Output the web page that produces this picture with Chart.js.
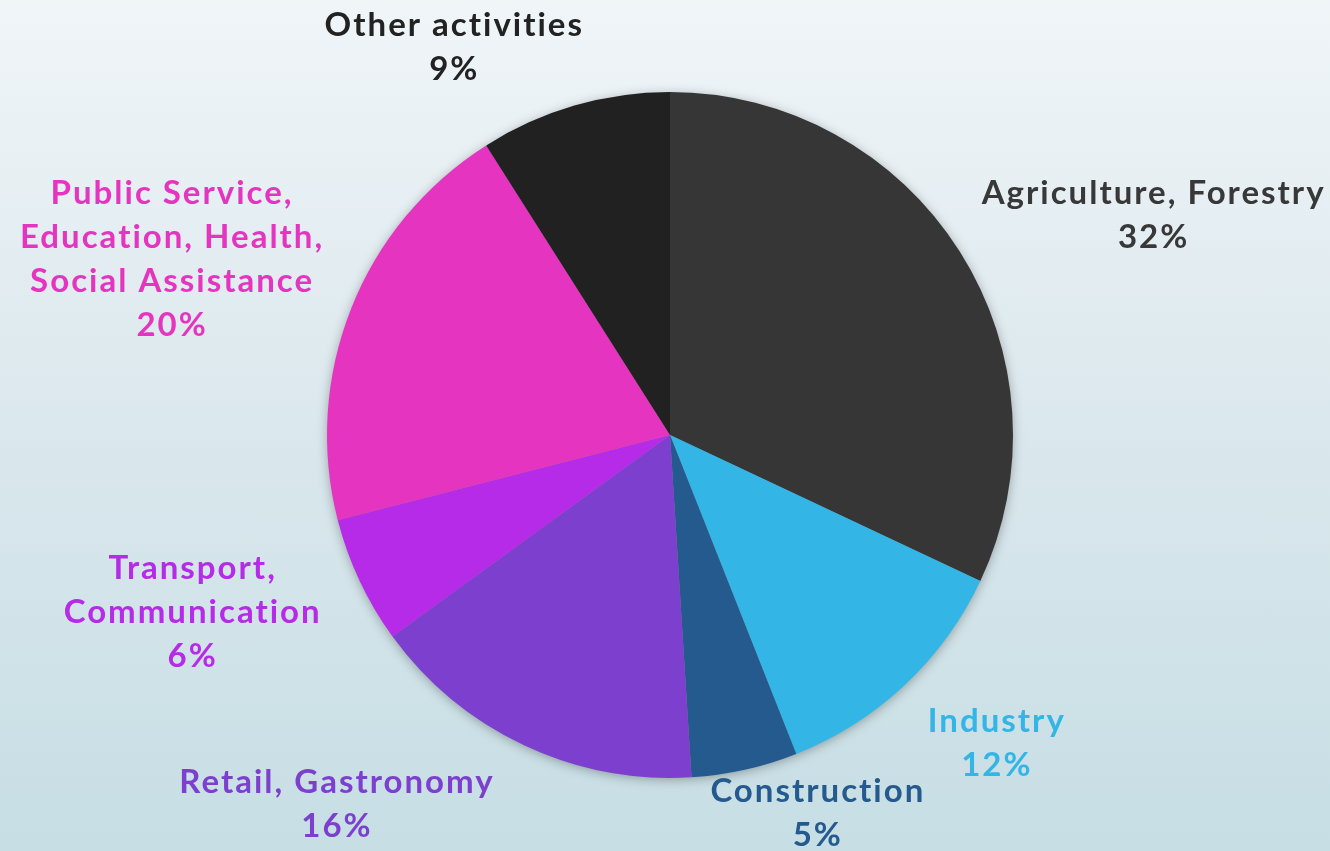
<!DOCTYPE html>
<html>
<head>
<meta charset="utf-8">
<script src="https://cdn.jsdelivr.net/npm/chart.js@4.4.1/dist/chart.umd.min.js"></script>
<style>
  html, body { margin: 0; padding: 0; }
  body {
    width: 1330px; height: 851px; overflow: hidden;
    background: linear-gradient(to bottom, #f0f5f8 0%, #dde9ee 45%, #c6dee4 100%);
  }
  canvas { display: block; }
</style>
</head>
<body>
<canvas id="pie" width="1330" height="851"></canvas>
<script>
// data
const categories = [
  ['Agriculture, Forestry'],
  ['Industry'],
  ['Construction'],
  ['Retail, Gastronomy'],
  ['Transport,', 'Communication'],
  ['Public Service,', 'Education, Health,', 'Social Assistance'],
  ['Other activities']
];
const shares = [32, 12, 5, 16, 6, 20, 9];
const sliceColors = ['#363636', '#33b5e5', '#255a8f', '#7d40ce', '#b62be8', '#e535c0', '#212121'];
const labelColors = ['#383838', '#33b5e5', '#255a8f', '#7d40ce', '#b62be8', '#e535c0', '#222222'];

// nudges from the rim point at mid angle to the label block centre
const labelNudge = [[193, -36], [91, 58], [72, 44], [-188, 59], [-168, 31], [-180, -49], [-121, -58]];

const FONT = 'bold 33px "Century Gothic", "Lato", sans-serif';
const LINE_H = 44;

const pieShadow = {
  id: 'pieShadow',
  beforeDatasetsDraw(chart) {
    const arc = chart.getDatasetMeta(0).data[0];
    if (!arc) return;
    const ctx = chart.ctx;
    ctx.save();
    ctx.shadowColor = 'rgba(0,0,0,0.35)';
    ctx.shadowBlur = 12;
    ctx.shadowOffsetY = 2;
    ctx.fillStyle = '#888';
    ctx.beginPath();
    ctx.arc(arc.x, arc.y, arc.outerRadius - 1, 0, Math.PI * 2);
    ctx.fill();
    ctx.restore();
  }
};

const outsideLabels = {
  id: 'outsideLabels',
  afterDatasetsDraw(chart) {
    const ctx = chart.ctx;
    const meta = chart.getDatasetMeta(0);
    ctx.save();
    ctx.font = FONT;
    ctx.letterSpacing = '2px';
    ctx.textAlign = 'center';
    ctx.textBaseline = 'middle';
    meta.data.forEach((arc, i) => {
      const mid = (arc.startAngle + arc.endAngle) / 2;
      const px = arc.x + Math.cos(mid) * arc.outerRadius + labelNudge[i][0] + 1;
      const py = arc.y + Math.sin(mid) * arc.outerRadius + labelNudge[i][1];
      const lines = categories[i].concat([shares[i] + '%']);
      const top = py - (lines.length - 1) * LINE_H / 2;
      ctx.fillStyle = labelColors[i];
      lines.forEach((t, k) => ctx.fillText(t, px, top + k * LINE_H));
    });
    ctx.restore();
  }
};

new Chart(document.getElementById('pie'), {
  type: 'pie',
  data: {
    labels: categories,
    datasets: [{
      data: shares,
      backgroundColor: sliceColors,
      borderWidth: 0
    }]
  },
  options: {
    responsive: false,
    animation: false,
    layout: { padding: { top: 92, bottom: 73, left: 10, right: 0 } },
    plugins: {
      legend: { display: false },
      tooltip: { enabled: false }
    }
  },
  plugins: [pieShadow, outsideLabels]
});
</script>
</body>
</html>
